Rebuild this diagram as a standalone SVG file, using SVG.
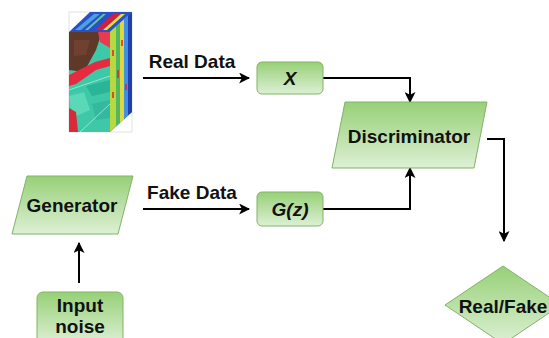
<svg xmlns="http://www.w3.org/2000/svg" width="549" height="338" viewBox="0 0 549 338">
<defs>
<linearGradient id="g" x1="0" y1="0" x2="0" y2="1">
<stop offset="0" stop-color="#97D077"/>
<stop offset="1" stop-color="#DDF0D5"/>
</linearGradient>
<marker id="arr" viewBox="0 0 10 10" refX="9" refY="5" markerWidth="5.5" markerHeight="5.5" orient="auto" markerUnits="strokeWidth">
<path d="M0,0 L10,5 L0,10 L2.5,5 Z" fill="#000"/>
</marker>
<style>
.shape{fill:url(#g);stroke:#82B366;stroke-width:1}
.t{font-family:"Liberation Sans",Arial,sans-serif;font-weight:bold;font-size:19px;fill:#111;text-anchor:middle}
.i{font-style:italic}
.c{fill:none;stroke:#000;stroke-width:2;marker-end:url(#arr)}
</style>
</defs>
<rect width="549" height="338" fill="#fff"/>

<g id="cube">
<rect x="69" y="12" width="63" height="120" fill="#fff" stroke="#e2e2e2" stroke-width="1"/>
<polygon points="69,32 90,12 132,12 110,32" fill="#2850c8"/>
<polygon points="75,30 94,14 100,14 81,30" fill="#4aa0e0"/>
<polygon points="95,30 113,14 121,14 103,30" fill="#d02040"/>
<polygon points="103,30 121,14 125,14 107,30" fill="#e8e040"/>
<polygon points="85,30 103,14 106,14 88,30" fill="#60c8a0"/>
<polygon points="69,32 110,32 110,132 69,132" fill="#3ec8a8"/>
<polygon points="69,32 102,32 96,50 84,72 69,70" fill="#5e3828"/>
<polygon points="74,40 90,40 86,55 74,56" fill="#704030"/>
<polygon points="69,75 95,62 110,58 110,66 96,70 76,84 69,86" fill="#e82a40"/>
<polygon points="98,32 110,32 110,48 100,42" fill="#e83a50"/>
<polygon points="86,86 110,80 110,92 92,96" fill="#2ab498"/>
<polygon points="69,96 84,92 90,110 72,118" fill="#5ad8b8"/>
<polygon points="69,108 76,112 78,132 69,132" fill="#d82a3a"/>
<polygon points="92,104 110,100 110,118 96,120" fill="#34b8a0"/>
<line x1="69" y1="90" x2="110" y2="76" stroke="#a0f0e0" stroke-width="0.8"/>
<line x1="80" y1="132" x2="110" y2="104" stroke="#a0f0e0" stroke-width="0.8"/>
<polygon points="110,32 132,12 132,112 110,132" fill="#3070d0"/>
<polygon points="110,32 116,26.5 116,126.5 110,132" fill="#b8d840"/>
<polygon points="116,26.5 120,23 120,123 116,126.5" fill="#50b860"/>
<polygon points="120,23 124,19.5 124,119.5 120,123" fill="#e0d840"/>
<polygon points="124,19.5 128,15.5 128,115.5 124,119.5" fill="#4090e0"/>
<polygon points="128,15.5 132,12 132,112 128,115.5" fill="#2040b0"/>
<line x1="113" y1="50" x2="113" y2="56" stroke="#e02030" stroke-width="1.5"/>
<line x1="118" y1="70" x2="118" y2="78" stroke="#e02030" stroke-width="1.5"/>
<line x1="113" y1="92" x2="113" y2="98" stroke="#e02030" stroke-width="1.5"/>
<line x1="122" y1="40" x2="122" y2="46" stroke="#e02030" stroke-width="1.5"/>
<line x1="126" y1="84" x2="126" y2="90" stroke="#e02030" stroke-width="1.5"/>
</g>

<g id="connectors">
<line class="c" x1="143" y1="78" x2="249" y2="78"/>
<line class="c" x1="143" y1="209" x2="249" y2="209"/>
<polyline class="c" points="323,78 410,78 410,102"/>
<polyline class="c" points="323,209 410,209 410,168"/>
<polyline class="c" points="487,139 504,139 504,241"/>
<line class="c" x1="79" y1="283" x2="79" y2="243"/>
</g>

<g id="labels">
<text class="t" x="192" y="68">Real Data</text>
<text class="t" x="192" y="199">Fake Data</text>
</g>

<g id="x">
<rect class="shape" x="257" y="62" width="66" height="32" rx="5"/>
<text class="t i" x="290" y="85">X</text>
</g>

<g id="gz">
<rect class="shape" x="257" y="192" width="66" height="34" rx="5"/>
<text class="t i" x="290" y="216">G(z)</text>
</g>

<g id="discriminator">
<polygon class="shape" points="345,102 487,102 474,168 332,168"/>
<text class="t" x="409" y="142.5">Discriminator</text>
</g>

<g id="generator">
<polygon class="shape" points="27,176 133,176 118,234 12,234"/>
<text class="t" x="72" y="212">Generator</text>
</g>

<g id="input">
<rect class="shape" x="37" y="292" width="86" height="52" rx="6"/>
<text class="t" x="80" y="312">Input</text>
<text class="t" x="80" y="333">noise</text>
</g>

<g id="realfake">
<polygon class="shape" points="503,266 561,305 503,344 445,305"/>
<text class="t" x="503" y="313">Real/Fake</text>
</g>
</svg>
